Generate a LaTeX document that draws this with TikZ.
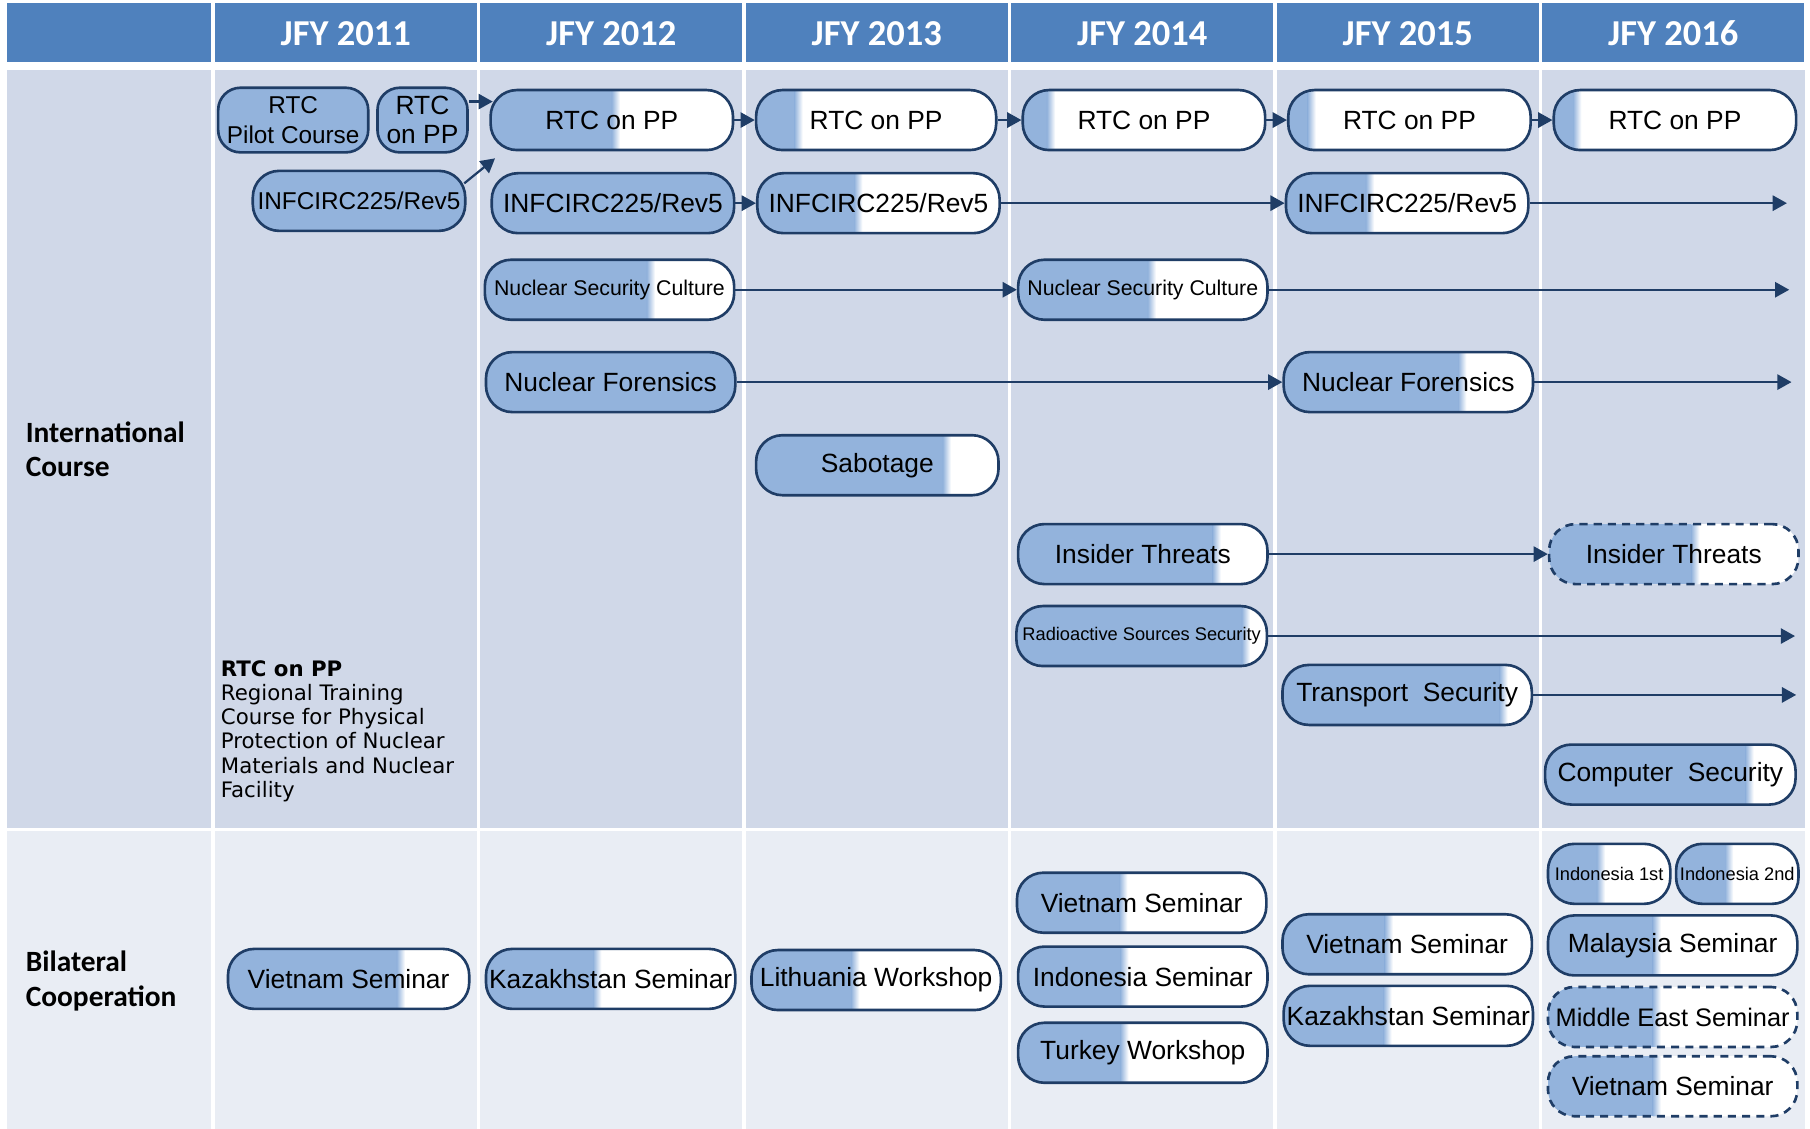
\documentclass[tikz,border=0pt]{standalone}
\usepackage{fontspec}
\setmainfont{Liberation Sans}
\newfontfamily\headfont{Carlito}
\newfontfamily\notefont{DejaVu Sans}
\usetikzlibrary{arrows.meta,calc}
\definecolor{hdblue}{HTML}{4F81BD}
\definecolor{bandA}{HTML}{D0D8E8}
\definecolor{bandB}{HTML}{E9EDF4}
\definecolor{boxblue}{HTML}{93B3DC}
\definecolor{boxline}{HTML}{1F3D66}

\begin{document}
\begin{tikzpicture}[x=0.02cm,y=-0.02cm,>={Triangle[length=7pt,width=7.5pt]},
  course/.style={draw=boxline,line width=1.3pt,rounded corners=13pt,fill=white,
    minimum height=1.04cm,inner sep=0pt,align=center,font=\fontsize{13}{15}\selectfont},
  fs/.style={font=\fontsize{#1}{15}\selectfont},
  wd/.style={minimum width=#1*0.02cm},
  full/.style={fill=boxblue},
  prog/.style={path picture={
    \coordinate (pa) at (path picture bounding box.south west);
    \coordinate (pb) at ($(path picture bounding box.north west)!#1!(path picture bounding box.north east)$);
    \fill[boxblue,sharp corners] (pa) rectangle (pb);
    \shade[left color=boxblue,right color=white,sharp corners] (pa -| pb) rectangle ($(pb)+(4pt,0)$);}},
  plan/.style={dash pattern=on 4pt off 3pt},
  arr/.style={->,draw=boxline,line width=1.1pt},
  head/.style={text=white,font=\headfont\bfseries\fontsize{18}{20}\selectfont},
  rowlab/.style={anchor=west,align=left,inner sep=0pt,font=\headfont\bfseries\fontsize{14.5}{17}\selectfont},
  note/.style={anchor=north west,align=left,inner sep=0pt,font=\notefont\fontsize{10.5}{11.9}\selectfont}]
\useasboundingbox (0,0) rectangle (1568,978);
\fill[hdblue] (6,3) rectangle (183,54);
\foreach \yr [count=\i from 0] in {2011,...,2016}{
  \fill[hdblue] (186+230*\i,3) rectangle (413+230*\i,54);
  \node[head] (y\yr) at (299.5+230*\i,29) {JFY \yr};
}
\fill[bandA] (6,61) rectangle (1564,717);
\fill[bandB] (6,720) rectangle (1564,978);
\foreach \i in {0,...,5}
  \draw[white,line width=0.06cm] (184.5+230*\i,61) -- (184.5+230*\i,978);
\node[rowlab] (intl) at (22,389) {International\\Course};
\node[rowlab] (bilat) at (22,850) {Bilateral\\Cooperation};
\node[note] (legend) at (191,572) {\textbf{RTC on PP}\\Regional Training\\Course for Physical\\Protection of Nuclear\\Materials and Nuclear\\Facility};

\node[course,full,wd=130,minimum height=1.12cm,rounded corners=11pt,font=\fontsize{12}{14.5}\selectfont] (pilot) at (254,104) {RTC\\Pilot Course};
\node[course,full,wd=78,minimum height=1.12cm,rounded corners=11pt,font=\fontsize{13}{14.5}\selectfont] (rtcO) at (366,104) {RTC\\on PP};
\node[course,full,wd=184,fs=12] (infO) at (311,174) {INFCIRC225/Rev5};
\node[course,prog=0.5,wd=210] (rtcA) at (530,104) {RTC on PP};
\node[course,prog=0.16,wd=208] (rtcB) at (759,104) {RTC on PP};
\node[course,prog=0.1,wd=210] (rtcC) at (991,104) {RTC on PP};
\node[course,prog=0.08,wd=210] (rtcD) at (1221,104) {RTC on PP};
\node[course,prog=0.08,wd=210] (rtcE) at (1451,104) {RTC on PP};
\node[course,full,wd=210] (infA) at (531,176) {INFCIRC225/Rev5};
\node[course,prog=0.4,wd=210] (infB) at (761,176) {INFCIRC225/Rev5};
\node[course,prog=0.33,wd=210] (infD) at (1219,176) {INFCIRC225/Rev5};
\node[course,prog=0.65,wd=216,fs=10.5] (nscA) at (528,251) {Nuclear Security Culture};
\node[course,prog=0.52,wd=216,fs=10.5] (nscC) at (990,251) {Nuclear Security Culture};
\node[course,full,wd=216] (forA) at (529,331) {Nuclear Forensics};
\node[course,prog=0.7,wd=216] (forD) at (1220,331) {Nuclear Forensics};
\node[course,prog=0.77,wd=210] (sabB) at (760,403) {Sabotage};
\node[course,prog=0.78,wd=216] (insC) at (990,480) {Insider Threats};
\node[course,plan,prog=0.57,wd=216] (insE) at (1450,480) {Insider Threats};
\node[course,prog=0.9,wd=217,fs=9] (radC) at (989,551) {Radioactive Sources Security};
\node[course,prog=0.87,wd=216] (traD) at (1219,602) {Transport~~Security};
\node[course,prog=0.8,wd=217] (comE) at (1447,671) {Computer~~Security};

\node[course,prog=0.7,wd=209] (vieO) at (302,848) {Vietnam Seminar};
\node[course,prog=0.43,wd=216] (kazA) at (529,848) {Kazakhstan Seminar};
\node[course,prog=0.4,wd=216] (litB) at (759,849) {Lithuania Workshop};
\node[course,prog=0.41,wd=216] (vieC) at (989,782) {Vietnam Seminar};
\node[course,prog=0.41,wd=216] (indC) at (990,846) {Indonesia Seminar};
\node[course,prog=0.41,wd=216] (turC) at (990,912) {Turkey Workshop};
\node[course,prog=0.41,wd=216] (vieD) at (1219,818) {Vietnam Seminar};
\node[course,prog=0.4,wd=216] (kazD) at (1220,880) {Kazakhstan Seminar};
\node[course,prog=0.4,wd=106,fs=9] (in1E) at (1394,757) {Indonesia 1st};
\node[course,prog=0.4,wd=106,fs=9] (in2E) at (1505,757) {Indonesia 2nd};
\node[course,prog=0.42,wd=216] (malE) at (1449,819) {Malaysia Seminar};
\node[course,plan,prog=0.42,wd=216,fs=12.5] (mesE) at (1449,881) {Middle East Seminar};
\node[course,plan,prog=0.42,wd=216] (vieE) at (1449,941) {Vietnam Seminar};

\coordinate (infEnd) at (1548,176);
\coordinate (nscEnd) at (1550,251);
\coordinate (forEnd) at (1552,331);
\coordinate (radEnd) at (1555,551);
\coordinate (traEnd) at (1556,602);
\draw[arr] ($(rtcO.east)+(0,-16)$) -- ($(rtcA.west)+(3,-16)$);
\draw[arr] ($(infO.north east)+(-2,12)$) -- ($(rtcA.south west)+(5,6)$);
\draw[arr] (rtcA) -- (rtcB);
\draw[arr] (rtcB) -- (rtcC);
\draw[arr] (rtcC) -- (rtcD);
\draw[arr] (rtcD) -- (rtcE);
\draw[arr] (infA) -- (infB);
\draw[arr] (infB) -- (infD);
\draw[arr] (infD) -- (infEnd);
\draw[arr] (nscA) -- (nscC);
\draw[arr] (nscC) -- (nscEnd);
\draw[arr] (forA) -- (forD);
\draw[arr] (forD) -- (forEnd);
\draw[arr] (insC) -- (insE);
\draw[arr] (radC) -- (radEnd);
\draw[arr] (traD) -- (traEnd);
\end{tikzpicture}
\end{document}
